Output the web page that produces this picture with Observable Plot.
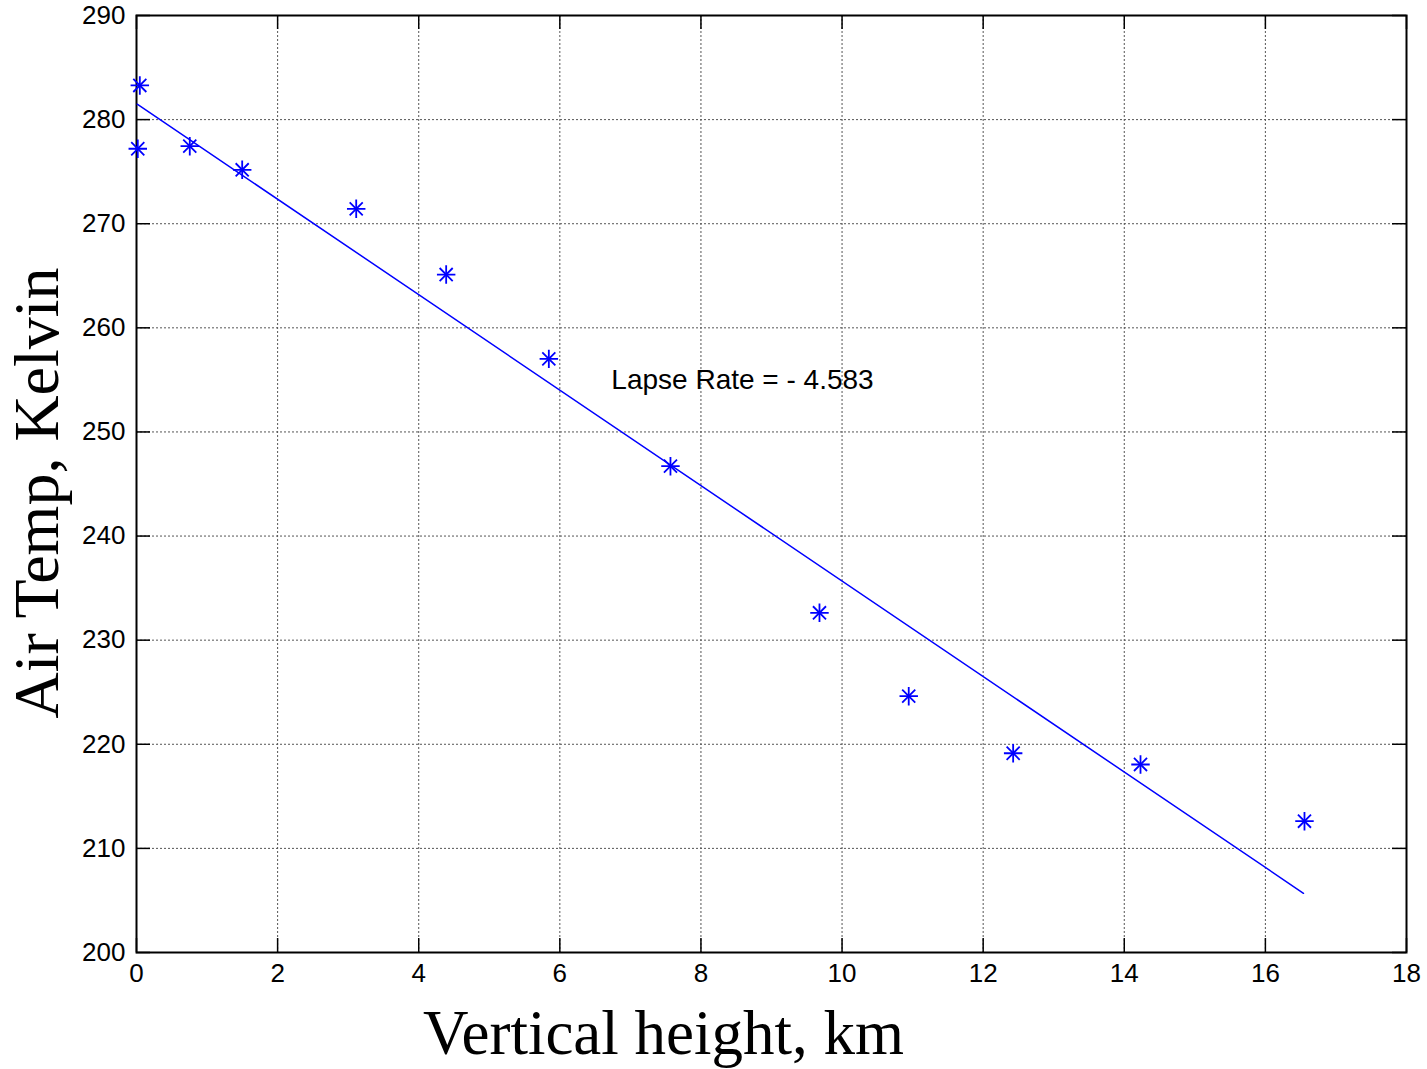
<!DOCTYPE html>
<html>
<head>
<meta charset="utf-8">
<script src="https://cdn.jsdelivr.net/npm/d3@7"></script>
<script src="https://cdn.jsdelivr.net/npm/@observablehq/plot@0.6"></script>
<style>
  body { margin: 0; background: #fff; }
  #chart svg { display: block; }
</style>
</head>
<body>
<div id="chart"></div>
<script>
// Observed profile (height km, temperature K)
const heightKm = [0.047, 0.018, 0.755, 1.498, 3.114, 4.389, 5.844, 7.568, 9.680, 10.945, 12.425, 14.230, 16.554];
const airTempK = [283.28, 277.2, 277.45, 275.18, 271.43, 265.12, 257.02, 246.71, 232.63, 224.62, 219.14, 218.06, 212.61];

// Fitted line end points
const fitX = [0.01, 16.54];
const fitY = [281.48, 205.69];

const xTicks = [0, 2, 4, 6, 8, 10, 12, 14, 16, 18];
const yTicks = [200, 210, 220, 230, 240, 250, 260, 270, 280, 290];

const annotation = "Lapse Rate = - 4.583";
const annotationPos = {x: 6.73, y: 255};
const xLabel = "Vertical height, km";
const yLabel = "Air Temp, Kelvin";

const points = heightKm.map((h, i) => ({h, t: airTempK[i]}));
const fit = fitX.map((x, i) => ({x, y: fitY[i]}));

const W = 1427, H = 1069;
const mL = 136, mR = 21, mT = 15, mB = 117;
const fw = W - mL - mR, fh = H - mT - mB;
const tickLen = 14;
const sans = "'Liberation Sans', Arial, Helvetica, sans-serif";
const serif = "'Liberation Serif', 'Times New Roman', Times, serif";
const blue = "#0000ff";

const chart = Plot.plot({
  width: W, height: H,
  marginLeft: mL, marginRight: mR, marginTop: mT, marginBottom: mB,
  style: {fontFamily: sans, background: "white"},
  x: {domain: [0, 18]},
  y: {domain: [200, 290]},
  marks: [
    Plot.gridX(xTicks, {stroke: "#555", strokeOpacity: 1, strokeDasharray: "2,2", strokeWidth: 1}),
    Plot.gridY(yTicks, {stroke: "#555", strokeOpacity: 1, strokeDasharray: "2,2", strokeWidth: 1}),
    // inward ticks on all four sides
    Plot.tickY(yTicks, {y: d => d, insetRight: fw - tickLen, stroke: "black", strokeWidth: 1.5}),
    Plot.tickY(yTicks, {y: d => d, insetLeft: fw - tickLen, stroke: "black", strokeWidth: 1.5}),
    Plot.tickX(xTicks, {x: d => d, insetTop: fh - tickLen, stroke: "black", strokeWidth: 1.5}),
    Plot.tickX(xTicks, {x: d => d, insetBottom: fh - tickLen, stroke: "black", strokeWidth: 1.5}),
    Plot.axisX(xTicks, {tickSize: 0, tickPadding: 11, fontSize: 26, fill: "black", label: null}),
    Plot.axisY(yTicks, {tickSize: 0, tickPadding: 11, fontSize: 26, fill: "black", label: null}),
    Plot.frame({stroke: "black", strokeWidth: 2}),
    Plot.line(fit, {x: "x", y: "y", stroke: blue, strokeWidth: 1.5}),
    Plot.dot(points, {x: "h", y: "t", symbol: "plus", r: 6, stroke: blue, strokeWidth: 1.8, fill: "none"}),
    Plot.dot(points, {x: "h", y: "t", symbol: "times", r: 6, stroke: blue, strokeWidth: 1.8, fill: "none"}),
    Plot.text([annotation], {x: () => annotationPos.x, y: () => annotationPos.y, textAnchor: "start", fontSize: 28, fill: "black", fontFamily: sans}),
    Plot.text([yLabel], {frameAnchor: "left", textAnchor: "middle", lineAnchor: "middle", rotate: -90, dx: -99, dy: 9, fontSize: 64, fontFamily: serif, fill: "black"}),
    Plot.text([xLabel], {frameAnchor: "bottom", textAnchor: "middle", lineAnchor: "middle", dx: -108, dy: 81, fontSize: 63, fontFamily: serif, fill: "black"})
  ]
});

document.getElementById("chart").appendChild(chart);
</script>
</body>
</html>
